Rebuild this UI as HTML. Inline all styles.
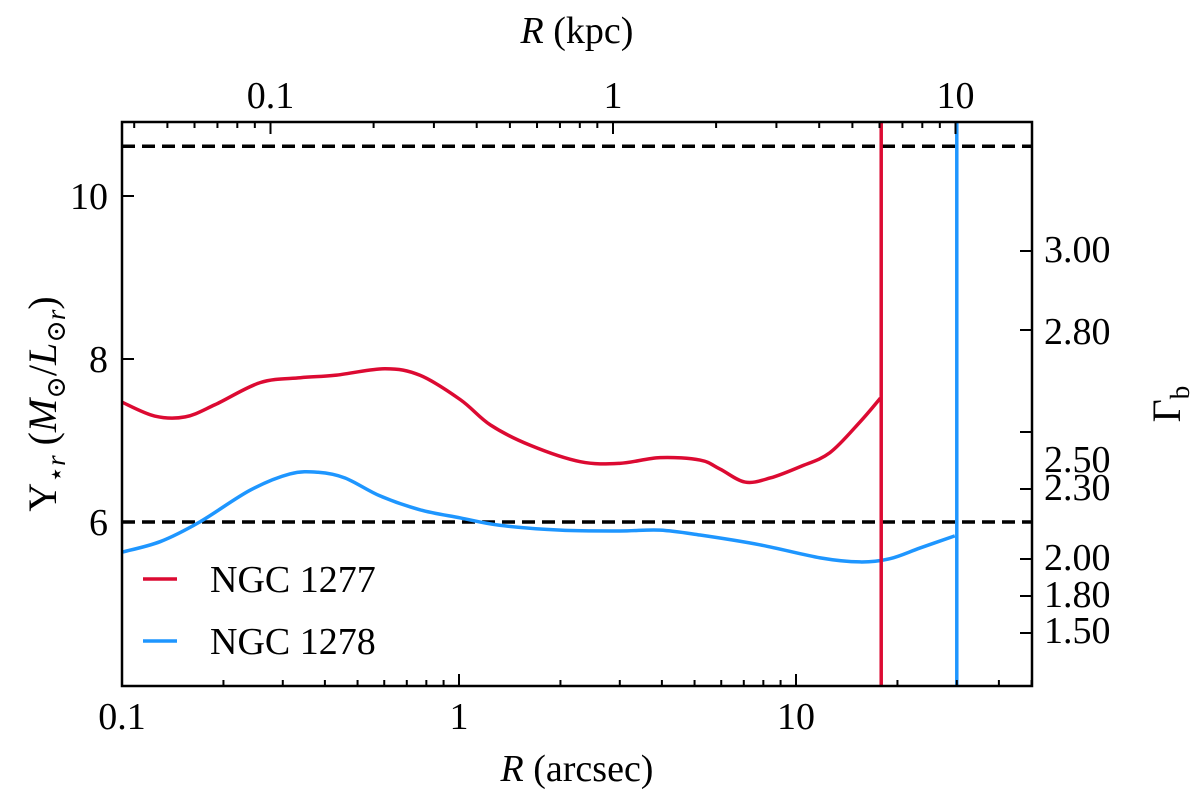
<!DOCTYPE html>
<html><head><meta charset="utf-8"><style>
body{margin:0;background:#fff}
svg{display:block;font-family:"Liberation Serif","DejaVu Serif",serif}
</style></head><body>
<svg id="chart" width="1200" height="800" viewBox="0 0 1200 800" xmlns="http://www.w3.org/2000/svg">
<g id="marks"></g>
<g id="axes"></g>
<text x="577" y="781" font-size="38" text-anchor="middle"><tspan font-style="italic">R</tspan> (arcsec)</text>
<text x="577" y="43" font-size="38" text-anchor="middle"><tspan font-style="italic">R</tspan> (kpc)</text>
<text transform="translate(56,404) rotate(-90)" font-size="40" text-anchor="middle">Υ<tspan font-size="27" dy="9">⋆<tspan font-style="italic">r</tspan></tspan><tspan dy="-9"> (</tspan><tspan font-style="italic">M</tspan><tspan font-size="27" dy="9">⊙</tspan><tspan dy="-9">/</tspan><tspan font-style="italic">L</tspan><tspan font-size="27" dy="9">⊙<tspan font-style="italic">r</tspan></tspan><tspan dy="-9">)</tspan></text>
<text transform="translate(1180,404) rotate(-90)" font-size="40" text-anchor="middle">Γ<tspan font-size="27" dy="9">b</tspan></text>
<g>
<line x1="143" y1="579" x2="177" y2="579" stroke="#dc0a32" stroke-width="3.5"/>
<text x="210" y="592" font-size="38">NGC 1277</text>
<line x1="143" y1="641" x2="177" y2="641" stroke="#1e96ff" stroke-width="3.5"/>
<text x="210" y="654" font-size="38">NGC 1278</text>
</g>
</svg>
<script>
const redR=[0.1,0.125,0.154,0.189,0.257,0.338,0.429,0.603,0.766,1.01,1.24,1.63,2.29,3.0,3.95,5.19,5.95,7.06,8.38,10.3,12.6,15.5,17.8];
const redY=[7.47,7.30,7.29,7.44,7.71,7.77,7.80,7.88,7.80,7.50,7.19,6.94,6.74,6.72,6.79,6.76,6.65,6.49,6.54,6.68,6.85,7.23,7.52];
const blueR=[0.1,0.130,0.170,0.240,0.315,0.382,0.459,0.583,0.766,1.01,1.32,2.0,3.0,3.95,5.19,7.81,11.8,15.5,19.0,23.3,29.6];
const blueY=[5.63,5.76,6.00,6.39,6.59,6.61,6.54,6.32,6.15,6.05,5.96,5.90,5.89,5.90,5.84,5.72,5.56,5.51,5.55,5.68,5.83];
const hLines=[10.61,6.0];
const vLines=[17.9,30.0];
const yTicks=[6,8,10];
const xTicks=[0.1,1,10];
const kpcTicks=[0.1,1,10];
const gammaTicks=["3.00","2.80","2.50","2.30","2.00","1.80","1.50"];
const L=122,R=1032,T=122,B=686;
const xs=v=>L+(Math.log10(v)+1)*337;
const ys=v=>522-(v-6)*81.5;
const ks=v=>613+Math.log10(v)*342.5;
const NS="http://www.w3.org/2000/svg";
const marks=document.getElementById('marks'),axes=document.getElementById('axes');
function mk(p,t,a){const e=document.createElementNS(NS,t);for(const k in a)e.setAttribute(k,a[k]);p.appendChild(e);return e;}
function smooth(xsA,ysA){const P=xsA.map((x,i)=>[xs(x),ys(ysA[i])]);let d=`M${P[0][0]},${P[0][1]}`;
for(let i=0;i<P.length-1;i++){const p0=P[Math.max(0,i-1)],p1=P[i],p2=P[i+1],p3=P[Math.min(P.length-1,i+2)];
d+=` C${p1[0]+(p2[0]-p0[0])/6},${p1[1]+(p2[1]-p0[1])/6} ${p2[0]-(p3[0]-p1[0])/6},${p2[1]-(p3[1]-p1[1])/6} ${p2[0]},${p2[1]}`;}return d;}
hLines.forEach((v,i)=>{const e=mk(marks,'line',{x1:L,x2:R,y1:ys(v),y2:ys(v),stroke:'#000','stroke-width':3.5,'stroke-dasharray':'13,7'});

});
const cols=['#dc0a32','#1e96ff'];
const c1=mk(marks,'path',{d:smooth(redR,redY),fill:'none',stroke:cols[0],'stroke-width':3.5});


const c2=mk(marks,'path',{d:smooth(blueR,blueY),fill:'none',stroke:cols[1],'stroke-width':3.5});


vLines.forEach((v,i)=>{const e=mk(marks,'line',{x1:xs(v),x2:xs(v),y1:T,y2:B,stroke:cols[i],'stroke-width':3.5});

});
const frame=mk(axes,'rect',{x:L,y:T,width:R-L,height:B-T,fill:'none',stroke:'#000','stroke-width':2.5});


function tick(x1,y1,x2,y2){mk(axes,'line',{x1,y1,x2,y2,stroke:'#000','stroke-width':2});}
function label(x,y,s,anchor,name){const t=mk(axes,'text',{x,y,'font-size':38,'text-anchor':anchor});t.textContent=s;

}
for(let d=-1;d<=1;d++)for(let m=1;m<10;m++){const v=m*Math.pow(10,d);const x=xs(v);if(x<L-1||x>R+1)continue;const len=m==1?12:6;tick(x,B,x,B-len);}
xTicks.forEach(v=>label(xs(v),729,String(v),'middle','x-tick-label'));
for(let d=-2;d<=1;d++)for(let m=1;m<10;m++){const v=m*Math.pow(10,d);const x=ks(v);if(x<L-1||x>R+1)continue;const len=m==1?12:6;tick(x,T,x,T+len);}
kpcTicks.forEach(v=>label(ks(v),108,String(v),'middle','top-tick-label'));
yTicks.forEach(v=>{tick(L,ys(v),L+12,ys(v));label(L-14,ys(v)+13,String(v),'end','y-tick-label');});
const gTickPos=[251,330,432,489,559,596,633],gLabPos=[249,331,459,487,557,594,630];
gammaTicks.forEach((s,i)=>{tick(R,gTickPos[i],R-12,gTickPos[i]);label(R+12,gLabPos[i]+13,s,'start','right-tick-label');});
</script>
</body></html>
